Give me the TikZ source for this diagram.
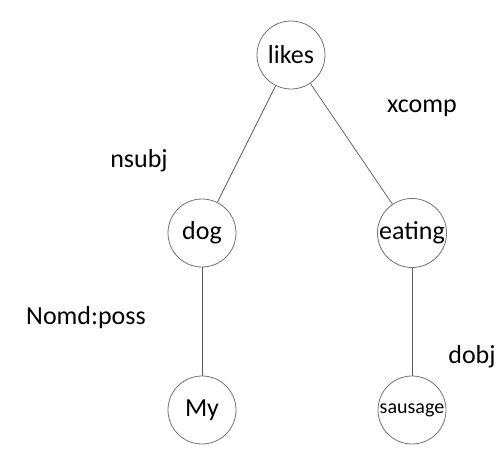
\documentclass[tikz,border=0pt]{standalone}
\usepackage{fontspec}
\setmainfont{Carlito}
\begin{document}
\begin{tikzpicture}[x=1pt,y=-1pt,
  word/.style={circle,draw=black!55,line width=0.8pt,minimum size=68pt,inner sep=0pt,font=\fontsize{26}{28}\selectfont},
  small/.style={font=\fontsize{20}{22}\selectfont},
  rel/.style={font=\fontsize{26}{28}\selectfont,inner sep=0pt},
  edge/.style={draw=black!65,line width=0.7pt}]
\useasboundingbox (0,0) rectangle (504,450);
\node[word] (likes) at (291,55) {likes};
\node[word] (dog) at (202,233) {dog};
\node[word] (eating) at (412,233) {eating};
\node[word] (my) at (202,410) {My};
\node[word,small] (sausage) at (412,410) {sausage};
\draw[edge] (likes) -- (dog);
\draw[edge] (likes) -- (eating);
\draw[edge] (dog) -- (my);
\draw[edge] (eating) -- (sausage);
\node[rel] (nsubj) at (139,161) {nsubj};
\node[rel] (xcomp) at (422,108) {xcomp};
\node[rel] (nomd) at (86,318) {Nomd:poss};
\node[rel] (dobj) at (472,357) {dobj};
\end{tikzpicture}
\end{document}
